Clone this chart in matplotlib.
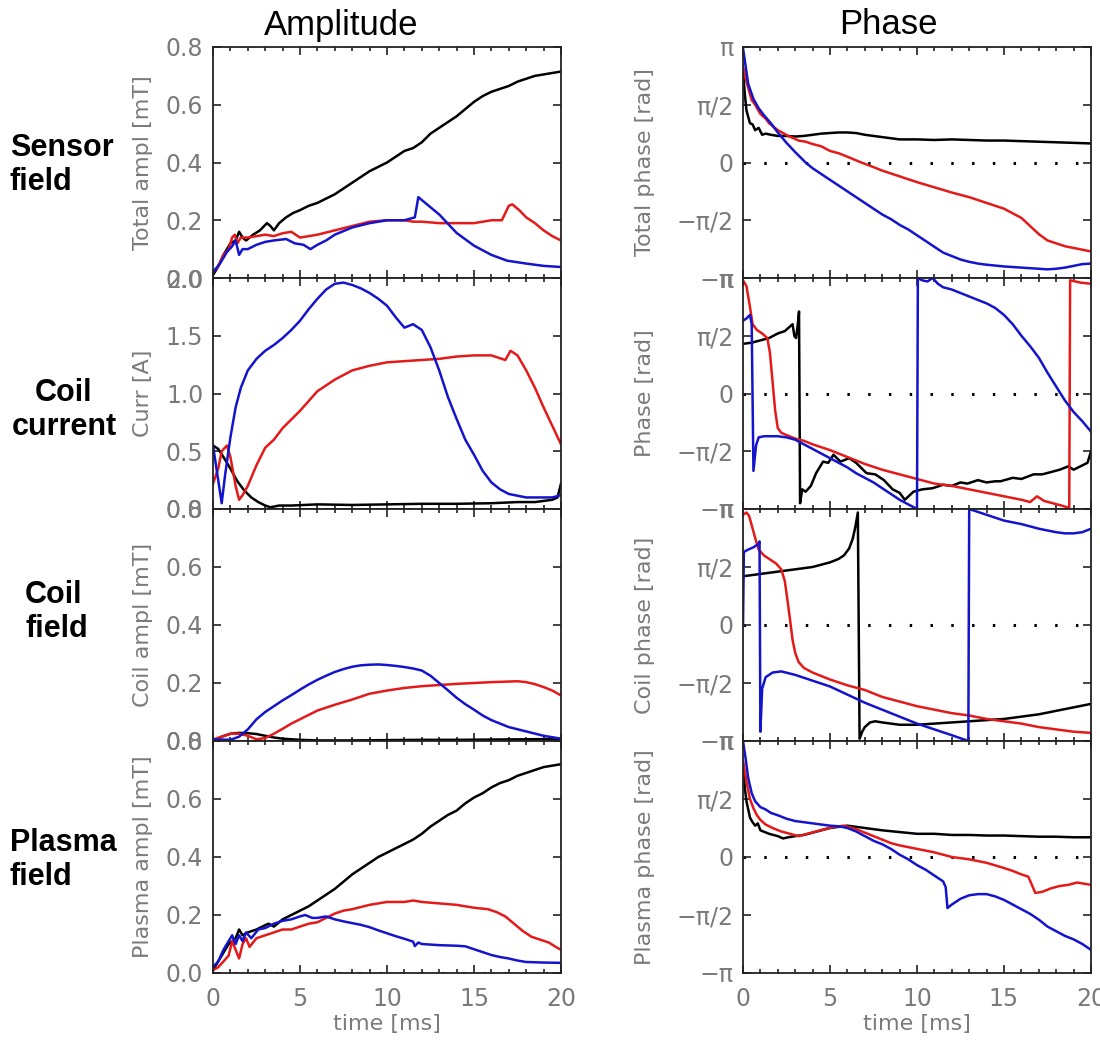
import numpy as np
import matplotlib
matplotlib.use("Agg")
import matplotlib.pyplot as plt
from matplotlib.ticker import MultipleLocator

# ---- data (time in ms, phase in units of pi) ----

# Sensor field, amplitude [mT]
sa_k_t = [0, 0.3, 0.6, 1.0, 1.3, 1.5, 1.7, 1.9, 2.3, 2.7, 3.1, 3.3, 3.5, 3.8, 4.2, 4.6, 5.0, 5.5, 6.0, 6.5,
          7.0, 7.5, 8.0, 8.5, 9.0, 9.5, 10.0, 10.5, 11.0, 11.5, 12.0, 12.5, 13.0, 13.5, 14.0, 14.5, 15.0,
          15.5, 16.0, 16.5, 17.0, 17.5, 18.0, 18.5, 19.0, 19.5, 20.0]
sa_k_v = [0.01, 0.04, 0.08, 0.12, 0.13, 0.16, 0.14, 0.13, 0.15, 0.165, 0.19, 0.18, 0.165, 0.19, 0.21,
          0.225, 0.235, 0.25, 0.26, 0.275, 0.29, 0.31, 0.33, 0.35, 0.37, 0.385, 0.40, 0.42, 0.44, 0.45,
          0.47, 0.50, 0.52, 0.54, 0.56, 0.585, 0.61, 0.63, 0.645, 0.655, 0.665, 0.68, 0.69, 0.70, 0.705,
          0.71, 0.715]
sa_r_t = [0, 0.3, 0.6, 0.9, 1.1, 1.25, 1.4, 1.6, 2.0, 2.5, 3.0, 3.5, 4.0, 4.5, 5.0, 5.5, 6.0, 7.0, 8.0,
          9.0, 10.0, 11.0, 11.5, 12.0, 13.0, 14.0, 15.0, 16.0, 16.6, 17.0, 17.2, 17.6, 18.0, 18.5, 19.0,
          19.5, 20.0]
sa_r_v = [0.02, 0.04, 0.08, 0.10, 0.14, 0.15, 0.12, 0.14, 0.14, 0.145, 0.15, 0.145, 0.155, 0.16, 0.14,
          0.145, 0.15, 0.165, 0.18, 0.195, 0.2, 0.2, 0.195, 0.195, 0.19, 0.19, 0.19, 0.2, 0.2, 0.25, 0.255,
          0.235, 0.21, 0.19, 0.165, 0.145, 0.13]
sa_b_t = [0, 0.4, 0.8, 1.1, 1.3, 1.5, 1.7, 2.0, 2.5, 3.0, 3.5, 4.2, 4.7, 5.2, 5.6, 6.0, 6.5, 7.0, 8.0,
          9.0, 10.0, 11.0, 11.6, 11.8, 12.2, 13.0, 14.0, 15.0, 16.0, 16.9, 18.0, 19.0, 20.0]
sa_b_v = [0.02, 0.05, 0.09, 0.11, 0.13, 0.08, 0.1, 0.1, 0.115, 0.125, 0.13, 0.135, 0.12, 0.115, 0.1,
          0.115, 0.13, 0.15, 0.175, 0.19, 0.2, 0.2, 0.21, 0.28, 0.26, 0.22, 0.156, 0.112, 0.08, 0.06,
          0.05, 0.042, 0.038]

# Coil current [A]
ca_k_t = [0, 0.3, 0.6, 1.0, 1.4, 1.8, 2.2, 2.6, 3.0, 3.3, 3.8, 4.5, 6, 8, 10, 12, 14, 16, 17.5, 18.5,
          19.5, 19.8, 20]
ca_k_v = [0.55, 0.52, 0.45, 0.35, 0.24, 0.16, 0.1, 0.06, 0.03, 0.015, 0.03, 0.03, 0.04, 0.035, 0.04,
          0.045, 0.045, 0.05, 0.06, 0.06, 0.08, 0.1, 0.22]
ca_r_t = [0, 0.3, 0.5, 0.8, 1.0, 1.3, 1.5, 1.7, 2.0, 2.5, 3.0, 3.5, 4.0, 5.0, 6.0, 7.0, 8.0, 9.0, 10.0,
          11.0, 12.0, 13.0, 14.0, 15.0, 16.0, 16.8, 17.1, 17.5, 18.0, 18.5, 19.0, 19.5, 20.0]
ca_r_v = [0.22, 0.35, 0.5, 0.55, 0.45, 0.2, 0.08, 0.12, 0.2, 0.38, 0.53, 0.6, 0.7, 0.85, 1.02, 1.12,
          1.2, 1.24, 1.27, 1.28, 1.29, 1.3, 1.32, 1.33, 1.33, 1.29, 1.37, 1.33, 1.2, 1.05, 0.88, 0.72, 0.56]
ca_b_t = [0, 0.25, 0.5, 0.7, 1.0, 1.3, 1.6, 2.0, 2.5, 3.0, 3.5, 4.0, 4.5, 5.0, 5.5, 6.0, 6.5, 7.0, 7.5,
          8.0, 8.5, 9.0, 9.5, 10.0, 10.5, 11.0, 11.5, 12.0, 12.5, 13.0, 13.5, 14.0, 14.5, 15.0, 15.5, 16.0,
          16.5, 17.0, 18.0, 19.0, 19.5, 20.0]
ca_b_v = [0.55, 0.3, 0.05, 0.3, 0.62, 0.88, 1.05, 1.2, 1.3, 1.37, 1.42, 1.48, 1.55, 1.63, 1.73, 1.82,
          1.9, 1.95, 1.96, 1.94, 1.91, 1.87, 1.82, 1.76, 1.66, 1.57, 1.6, 1.55, 1.4, 1.2, 0.97, 0.78, 0.6,
          0.47, 0.33, 0.23, 0.17, 0.13, 0.1, 0.1, 0.1, 0.12]

# Coil field amplitude [mT]
fa_k_t = [0, 0.5, 1.0, 1.5, 2.0, 2.5, 3.0, 3.5, 4.0, 5.0, 6.0, 8, 10, 12, 14, 16, 18, 20]
fa_k_v = [0.0, 0.015, 0.025, 0.028, 0.027, 0.024, 0.018, 0.012, 0.008, 0.004, 0.002, 0.002, 0.003,
          0.004, 0.004, 0.005, 0.006, 0.007]
fa_r_t = [0, 0.5, 1.0, 1.5, 2.0, 2.5, 3.0, 3.5, 4.0, 4.5, 5.0, 6.0, 7.0, 8.0, 9.0, 10.0, 11.0, 12.0,
          13.0, 14.0, 15.0, 16.0, 17.0, 17.5, 18.0, 18.5, 19.0, 19.5, 20.0]
fa_r_v = [0.005, 0.015, 0.025, 0.025, 0.018, 0.006, 0.01, 0.025, 0.042, 0.06, 0.075, 0.105, 0.125,
          0.143, 0.163, 0.174, 0.183, 0.189, 0.193, 0.197, 0.2, 0.203, 0.205, 0.206, 0.203, 0.196, 0.186,
          0.174, 0.157]
fa_b_t = [0, 0.5, 1.0, 1.5, 2.0, 2.5, 3.0, 3.5, 4.0, 4.5, 5.0, 5.5, 6.0, 6.5, 7.0, 7.5, 8.0, 8.5, 9.0,
          9.5, 10.0, 10.5, 11.0, 11.5, 12.0, 12.5, 13.0, 13.5, 14.0, 14.5, 15.0, 15.5, 16.0, 17.0, 18.0,
          19.0, 20.0]
fa_b_v = [0.005, 0.005, 0.004, 0.015, 0.04, 0.075, 0.1, 0.12, 0.14, 0.158, 0.177, 0.195, 0.211, 0.225,
          0.238, 0.248, 0.256, 0.261, 0.263, 0.264, 0.262, 0.259, 0.255, 0.25, 0.243, 0.225, 0.2, 0.175,
          0.149, 0.127, 0.108, 0.088, 0.072, 0.048, 0.033, 0.018, 0.008]

# Plasma field amplitude [mT]
pa_k_t = [0, 0.3, 0.6, 0.9, 1.1, 1.3, 1.5, 1.7, 2.0, 2.5, 3.0, 3.2, 3.5, 4.0, 4.5, 5.0, 5.5, 6.0, 6.5,
          7.0, 7.5, 8.0, 8.5, 9.0, 9.5, 10.0, 10.5, 11.0, 11.5, 12.0, 12.5, 13.0, 13.5, 14.0, 14.5, 15.0,
          15.5, 16.0, 16.5, 17.0, 17.5, 18.0, 18.5, 19.0, 19.5, 20.0]
pa_k_v = [0.01, 0.04, 0.07, 0.1, 0.11, 0.12, 0.15, 0.13, 0.14, 0.15, 0.165, 0.17, 0.16, 0.185, 0.2,
          0.215, 0.23, 0.25, 0.27, 0.29, 0.315, 0.34, 0.36, 0.38, 0.4, 0.415, 0.43, 0.445, 0.46, 0.48,
          0.505, 0.525, 0.545, 0.56, 0.585, 0.605, 0.62, 0.64, 0.655, 0.665, 0.68, 0.69, 0.7, 0.71, 0.715,
          0.72]
pa_r_t = [0, 0.3, 0.6, 0.9, 1.1, 1.3, 1.5, 1.7, 1.9, 2.1, 2.5, 3.0, 3.5, 4.0, 4.5, 5.0, 5.5, 6.0, 6.5,
          7.0, 7.5, 8.0, 9.0, 10.0, 11.0, 11.5, 12.0, 13.0, 14.0, 15.0, 15.8, 16.3, 16.8, 17.3, 17.8, 18.3,
          18.8, 19.3, 19.7, 20.0]
pa_r_v = [0.01, 0.02, 0.04, 0.06, 0.11, 0.08, 0.05, 0.1, 0.12, 0.09, 0.12, 0.13, 0.14, 0.15, 0.15,
          0.16, 0.17, 0.175, 0.19, 0.205, 0.215, 0.22, 0.235, 0.245, 0.245, 0.25, 0.245, 0.24, 0.235,
          0.225, 0.22, 0.21, 0.195, 0.17, 0.145, 0.125, 0.115, 0.105, 0.09, 0.08]
pa_b_t = [0, 0.3, 0.6, 0.9, 1.1, 1.3, 1.5, 1.7, 1.9, 2.2, 2.6, 3.0, 3.5, 4.0, 4.5, 5.0, 5.3, 5.7, 6.0,
          6.5, 7.0, 7.5, 8.0, 8.5, 9.0, 9.5, 10.0, 10.5, 11.0, 11.5, 11.6, 11.8, 12.0, 12.5, 13.0, 13.5,
          14.0, 14.5, 15.0, 15.5, 16.0, 16.5, 17.0, 17.5, 18.0, 19.0, 20.0]
pa_b_v = [0.02, 0.04, 0.08, 0.11, 0.13, 0.1, 0.13, 0.11, 0.14, 0.12, 0.15, 0.155, 0.17, 0.18, 0.185,
          0.195, 0.2, 0.19, 0.19, 0.195, 0.185, 0.178, 0.172, 0.166, 0.158, 0.147, 0.137, 0.127, 0.118,
          0.108, 0.093, 0.105, 0.1, 0.098, 0.096, 0.095, 0.094, 0.092, 0.082, 0.072, 0.062, 0.055, 0.05,
          0.043, 0.038, 0.036, 0.035]

# Sensor field, phase [pi]
sp_k_t = [0, 0.1, 0.2, 0.4, 0.55, 0.7, 0.9, 1.1, 1.3, 1.6, 2.0, 2.5, 3.0, 3.5, 4.0, 4.5, 5.0, 5.5, 6.0,
          6.5, 7.0, 8.0, 9.0, 10.0, 11.0, 12.0, 13.0, 14.0, 15.0, 16.0, 17.0, 18.0, 19.0, 20.0]
sp_k_v = [0.8, 0.6, 0.45, 0.34, 0.33, 0.28, 0.3, 0.24, 0.25, 0.24, 0.23, 0.23, 0.225, 0.23, 0.24,
          0.25, 0.255, 0.26, 0.26, 0.255, 0.24, 0.22, 0.2, 0.2, 0.195, 0.2, 0.195, 0.19, 0.19, 0.185, 0.18,
          0.175, 0.17, 0.165]
sp_r_t = [0, 0.2, 0.35, 0.5, 0.7, 1.0, 1.3, 1.5, 2.0, 2.6, 3.2, 3.6, 4.0, 4.5, 5.0, 5.5, 6.0, 6.8, 7.5,
          8.0, 9.0, 10.0, 11.0, 12.0, 13.0, 14.0, 15.0, 16.0, 16.5, 17.0, 17.5, 18.0, 18.5, 19.0, 19.5, 20.0]
sp_r_v = [0.83, 0.7, 0.62, 0.54, 0.5, 0.42, 0.38, 0.34, 0.28, 0.23, 0.19, 0.18, 0.16, 0.14, 0.1, 0.08,
          0.05, 0.0, -0.04, -0.07, -0.12, -0.17, -0.215, -0.26, -0.3, -0.35, -0.4, -0.48, -0.55, -0.62,
          -0.675, -0.7, -0.725, -0.74, -0.755, -0.77]
sp_b_t = [0, 0.3, 0.6, 0.9, 1.2, 1.6, 2.0, 2.5, 3.0, 3.6, 4.0, 4.5, 5.0, 5.5, 6.0, 6.5, 7.0, 7.5, 8.0,
          8.5, 9.0, 9.5, 10.0, 10.5, 11.0, 11.5, 12.0, 12.5, 13.0, 13.5, 14.0, 15.0, 16.0, 17.0, 17.5,
          18.0, 18.5, 19.0, 19.5, 20.0]
sp_b_v = [0.99, 0.68, 0.55, 0.47, 0.41, 0.34, 0.26, 0.17, 0.09, 0.0, -0.05, -0.1, -0.15, -0.2, -0.25,
          -0.3, -0.35, -0.4, -0.45, -0.49, -0.54, -0.58, -0.63, -0.68, -0.73, -0.78, -0.81, -0.84, -0.86,
          -0.875, -0.885, -0.9, -0.91, -0.92, -0.925, -0.92, -0.91, -0.895, -0.88, -0.875]

# Coil current, phase [pi]
cp_k_t = [0, 0.5, 1.0, 1.5, 2.0, 2.4, 2.7, 2.85, 2.95, 3.05, 3.15, 3.22, 3.28, 3.4, 3.6, 3.9, 4.2, 4.6,
          4.9, 5.2, 5.6, 6.1, 6.5, 7.1, 7.6, 8.1, 8.6, 9.0, 9.3, 9.8, 10.3, 10.9, 11.5, 12.0, 12.5, 12.9,
          13.5, 14.0, 14.5, 14.8, 15.5, 16.0, 16.7, 17.2, 17.7, 18.2, 18.7, 19.0, 19.4, 19.8, 20.0]
cp_k_v = [0.43, 0.44, 0.46, 0.48, 0.52, 0.54, 0.58, 0.6, 0.5, 0.48, 0.6, 0.71, -0.95, -0.83, -0.85,
          -0.8, -0.69, -0.59, -0.6, -0.53, -0.59, -0.56, -0.6, -0.69, -0.7, -0.75, -0.83, -0.86, -0.92,
          -0.85, -0.83, -0.82, -0.79, -0.8, -0.77, -0.78, -0.75, -0.77, -0.76, -0.76, -0.73, -0.74, -0.7,
          -0.7, -0.68, -0.66, -0.63, -0.66, -0.63, -0.6, -0.5]
cp_r_t = [0, 0.2, 0.4, 0.55, 0.8, 1.1, 1.4, 1.55, 1.7, 1.85, 2.0, 2.2, 2.5, 3.0, 3.5, 4.0, 5.0, 6.0,
          7.0, 8.0, 9.0, 10.0, 11.0, 12.0, 13.0, 14.0, 15.0, 16.0, 16.5, 16.9, 17.3, 17.8, 18.3, 18.75,
          18.8, 19.4, 20.0]
cp_r_v = [0.98, 0.93, 0.75, 0.6, 0.55, 0.52, 0.48, 0.35, 0.1, -0.15, -0.3, -0.34, -0.36, -0.39, -0.41,
          -0.44, -0.49, -0.55, -0.61, -0.66, -0.7, -0.74, -0.78, -0.8, -0.83, -0.86, -0.89, -0.92, -0.94,
          -0.89, -0.93, -0.95, -0.97, -0.99, 0.98, 0.96, 0.95]
cp_b_t = [0, 0.2, 0.4, 0.5, 0.6, 0.75, 0.9, 1.2, 1.5, 2.0, 2.5, 3.0, 3.5, 4.0, 4.5, 5.0, 5.5, 6.0, 6.5,
          7.0, 7.5, 8.0, 8.5, 9.0, 9.5, 10.0, 10.05, 10.3, 10.6, 10.9, 11.2, 11.5, 12.0, 12.5, 13.0, 13.5,
          14.0, 14.5, 15.0, 15.5, 16.0, 16.5, 17.0, 17.5, 18.0, 18.5, 19.0, 19.5, 20.0]
cp_b_v = [0.63, 0.65, 0.68, 0.6, -0.67, -0.45, -0.38, -0.37, -0.37, -0.37, -0.38, -0.4, -0.44, -0.48,
          -0.52, -0.56, -0.6, -0.64, -0.69, -0.73, -0.77, -0.82, -0.87, -0.92, -0.96, -1.0, 1.0, 0.98,
          0.97, 1.0, 0.95, 0.92, 0.9, 0.87, 0.84, 0.81, 0.78, 0.74, 0.68, 0.6, 0.5, 0.41, 0.31, 0.18, 0.06,
          -0.06, -0.16, -0.24, -0.33]

# Coil field, phase [pi]
fp_k_t = [0, 1, 2, 3, 3.5, 4, 4.5, 5, 5.5, 5.8, 6.1, 6.3, 6.45, 6.6, 6.7, 6.85, 7.0, 7.3, 7.6, 8, 8.5,
          9, 9.5, 10, 11, 12, 13, 14, 15, 16, 17, 18, 19, 20]
fp_k_v = [0.42, 0.44, 0.46, 0.48, 0.49, 0.5, 0.52, 0.54, 0.57, 0.6, 0.66, 0.74, 0.84, 0.97, -0.98,
          -0.92, -0.88, -0.84, -0.83, -0.84, -0.85, -0.86, -0.86, -0.86, -0.85, -0.84, -0.83, -0.82,
          -0.81, -0.79, -0.77, -0.74, -0.71, -0.68]
fp_r_t = [0, 0.2, 0.35, 0.5, 0.7, 0.9, 1.2, 1.5, 1.9, 2.2, 2.4, 2.55, 2.7, 2.85, 3.0, 3.2, 3.5, 4.0,
          5.0, 6.0, 7.0, 8.0, 9.0, 10.0, 11.0, 12.0, 13.0, 14.0, 15.0, 16.0, 17.0, 18.0, 19.0, 20.0]
fp_r_v = [0.95, 0.97, 0.94, 0.86, 0.75, 0.65, 0.6, 0.57, 0.53, 0.48, 0.38, 0.22, 0.05, -0.13, -0.24,
          -0.32, -0.37, -0.41, -0.47, -0.52, -0.56, -0.62, -0.66, -0.7, -0.73, -0.76, -0.78, -0.81, -0.83,
          -0.85, -0.88, -0.9, -0.92, -0.93]
fp_b_t = [0, 0.05, 0.3, 0.6, 0.9, 0.95, 1.0, 1.1, 1.3, 1.7, 2.2, 3.0, 4.0, 5.0, 6.0, 7.0, 8.0, 9.0,
          10.0, 11.0, 12.0, 12.95, 13.0, 14.0, 15.0, 16.0, 17.0, 18.0, 18.5, 19.0, 19.5, 20.0]
fp_b_v = [0.0, 0.63, 0.65, 0.67, 0.7, 0.72, -0.92, -0.55, -0.45, -0.41, -0.4, -0.43, -0.48, -0.53,
          -0.6, -0.67, -0.73, -0.79, -0.85, -0.9, -0.95, -1.0, 1.0, 0.95, 0.9, 0.87, 0.83, 0.8, 0.79,
          0.79, 0.8, 0.83]

# Plasma field, phase [pi]
pp_k_t = [0, 0.1, 0.2, 0.4, 0.55, 0.7, 0.85, 1.0, 1.5, 2.0, 2.3, 2.6, 3.0, 3.5, 4.0, 4.5, 5.0, 5.5,
          6.0, 6.5, 7.0, 7.5, 8.0, 9.0, 10.0, 11.0, 12.0, 13.0, 14.0, 15.0, 16.0, 17.0, 18.0, 19.0, 20.0]
pp_k_v = [0.8, 0.6, 0.48, 0.34, 0.3, 0.27, 0.29, 0.23, 0.2, 0.18, 0.16, 0.17, 0.18, 0.19, 0.21, 0.23,
          0.25, 0.26, 0.27, 0.26, 0.25, 0.24, 0.23, 0.215, 0.2, 0.2, 0.19, 0.19, 0.185, 0.185, 0.18, 0.175,
          0.175, 0.17, 0.17]
pp_r_t = [0, 0.2, 0.4, 0.6, 0.8, 1.0, 1.3, 1.7, 2.2, 2.7, 3.2, 3.7, 4.2, 4.7, 5.2, 5.8, 6.5, 7.0, 7.5,
          8.0, 8.5, 9.0, 10.0, 11.0, 12.0, 13.0, 14.0, 15.0, 15.5, 16.0, 16.4, 16.6, 16.8, 17.2, 17.7,
          18.2, 18.7, 19.2, 19.6, 20.0]
pp_r_v = [0.83, 0.65, 0.5, 0.42, 0.36, 0.32, 0.28, 0.25, 0.22, 0.2, 0.18, 0.2, 0.22, 0.24, 0.26, 0.27,
          0.24, 0.21, 0.18, 0.15, 0.12, 0.1, 0.07, 0.04, 0.0, -0.02, -0.05, -0.095, -0.12, -0.15, -0.17,
          -0.24, -0.31, -0.3, -0.27, -0.25, -0.24, -0.22, -0.23, -0.24]
pp_b_t = [0, 0.15, 0.3, 0.5, 0.7, 1.0, 1.3, 1.6, 2.0, 2.5, 3.0, 3.5, 4.0, 4.5, 5.0, 5.5, 6.0, 6.5, 7.0,
          7.5, 8.0, 8.5, 9.0, 9.5, 10.0, 10.5, 11.0, 11.5, 11.65, 11.75, 12.0, 12.5, 13.0, 13.5, 14.0,
          14.5, 15.0, 15.5, 16.0, 16.5, 17.0, 17.5, 18.0, 18.5, 19.0, 19.5, 20.0]
pp_b_v = [1.0, 0.85, 0.68, 0.55, 0.48, 0.43, 0.41, 0.38, 0.36, 0.33, 0.31, 0.3, 0.29, 0.28, 0.27,
          0.265, 0.25, 0.22, 0.18, 0.14, 0.11, 0.07, 0.02, -0.02, -0.07, -0.11, -0.16, -0.21, -0.26, -0.44,
          -0.41, -0.36, -0.33, -0.32, -0.32, -0.34, -0.37, -0.41, -0.45, -0.49, -0.54, -0.6, -0.64, -0.68,
          -0.71, -0.75, -0.8]

amp_ylabels = ["Total ampl [mT]", "Curr [A]", "Coil ampl [mT]", "Plasma ampl [mT]"]
phase_ylabels = ["Total phase [rad]", "Phase [rad]", "Coil phase [rad]", "Plasma phase [rad]"]
row_names = ["Sensor\nfield", "Coil\ncurrent", "Coil\nfield", "Plasma\nfield"]
phase_ticklabels = ["\u2212\u03c0", "\u2212\u03c0/2", "0", "\u03c0/2", "\u03c0"]

BLACK, RED, BLUE = "#000000", "#e41a1a", "#1414cc"
GRAY = "#7a7a7a"

amp_curves = [
    [(sa_k_t, sa_k_v, BLACK), (sa_r_t, sa_r_v, RED), (sa_b_t, sa_b_v, BLUE)],
    [(ca_k_t, ca_k_v, BLACK), (ca_r_t, ca_r_v, RED), (ca_b_t, ca_b_v, BLUE)],
    [(fa_k_t, fa_k_v, BLACK), (fa_r_t, fa_r_v, RED), (fa_b_t, fa_b_v, BLUE)],
    [(pa_k_t, pa_k_v, BLACK), (pa_r_t, pa_r_v, RED), (pa_b_t, pa_b_v, BLUE)],
]
phase_curves = [
    [(sp_k_t, sp_k_v, BLACK), (sp_r_t, sp_r_v, RED), (sp_b_t, sp_b_v, BLUE)],
    [(cp_k_t, cp_k_v, BLACK), (cp_r_t, cp_r_v, RED), (cp_b_t, cp_b_v, BLUE)],
    [(fp_k_t, fp_k_v, BLACK), (fp_r_t, fp_r_v, RED), (fp_b_t, fp_b_v, BLUE)],
    [(pp_k_t, pp_k_v, BLACK), (pp_r_t, pp_r_v, RED), (pp_b_t, pp_b_v, BLUE)],
]

W, H = 1100, 1043
fig = plt.figure(figsize=(W / 100, H / 100), dpi=100)

row_edges = [47, 278, 509, 741, 973]
col_left = [213, 743]
ax_w = 348


def style_axis(ax, bottom_row):
    ax.set_xlim(0, 20)
    ax.xaxis.set_major_locator(MultipleLocator(5))
    ax.xaxis.set_minor_locator(MultipleLocator(1))
    ax.tick_params(which="both", direction="in", top=True, right=True,
                   colors="#222222", labelcolor=GRAY, labelsize=17, width=1.2)
    ax.tick_params(which="major", length=6, pad=7)
    ax.tick_params(which="minor", length=3)
    ax.tick_params(axis="y", which="minor", left=False, right=False)
    ax.tick_params(axis="x", pad=10)
    for s in ax.spines.values():
        s.set_linewidth(1.3)
        s.set_color("#222222")
    if bottom_row:
        ax.set_xticks([0, 5, 10, 15, 20])
        ax.set_xlabel("time [ms]", fontsize=16, color=GRAY, labelpad=2)
    else:
        ax.tick_params(axis="x", labelbottom=False)


for row in range(4):
    top, bot = row_edges[row], row_edges[row + 1]
    for col in range(2):
        rect = [col_left[col] / W, 1 - bot / H, ax_w / W, (bot - top) / H]
        ax = fig.add_axes(rect)
        curves = amp_curves[row] if col == 0 else phase_curves[row]
        for t, v, c in curves:
            ax.plot(t, v, color=c, lw=1.8, solid_joinstyle="round")
        ax.axhline(0, color="black", lw=2.2, ls=(0, (0.8, 6)), zorder=0.5)
        style_axis(ax, row == 3)
        if col == 0:
            if row == 1:
                ax.set_ylim(0, 2.0)
                ax.set_yticks([0, 0.5, 1.0, 1.5, 2.0])
            else:
                ax.set_ylim(0, 0.8)
                ax.set_yticks([0, 0.2, 0.4, 0.6, 0.8])
            ax.yaxis.set_major_formatter(plt.FormatStrFormatter("%.1f"))
            ax.set_ylabel(amp_ylabels[row], fontsize=16, color=GRAY)
            ax.yaxis.set_label_coords(-0.172, 0.5)
        else:
            ax.set_ylim(-1, 1)
            ax.set_yticks([-1, -0.5, 0, 0.5, 1])
            ax.set_yticklabels(phase_ticklabels)
            ax.set_ylabel(phase_ylabels[row], fontsize=16, color=GRAY)
            ax.yaxis.set_label_coords(-0.253, 0.5)

fig.text(341 / W, 1 - 25 / H, "Amplitude", ha="center", va="center",
         fontsize=25, family="Liberation Sans")
fig.text(888 / W, 1 - 25 / H, "Phase", ha="center", va="center",
         fontsize=25, family="Liberation Sans")

row_pos = [(10, 165, "left"), (64, 410, "center"), (25, 612, "left"), (10, 860, "left")]
for (x, y, ha), name in zip(row_pos, row_names):
    fig.text(x / W, 1 - y / H, name, ha=ha, va="center", fontsize=22,
             fontweight="bold", family="Liberation Sans", multialignment=ha,
             linespacing=1.2)

fig.savefig("out.png", dpi=100)
